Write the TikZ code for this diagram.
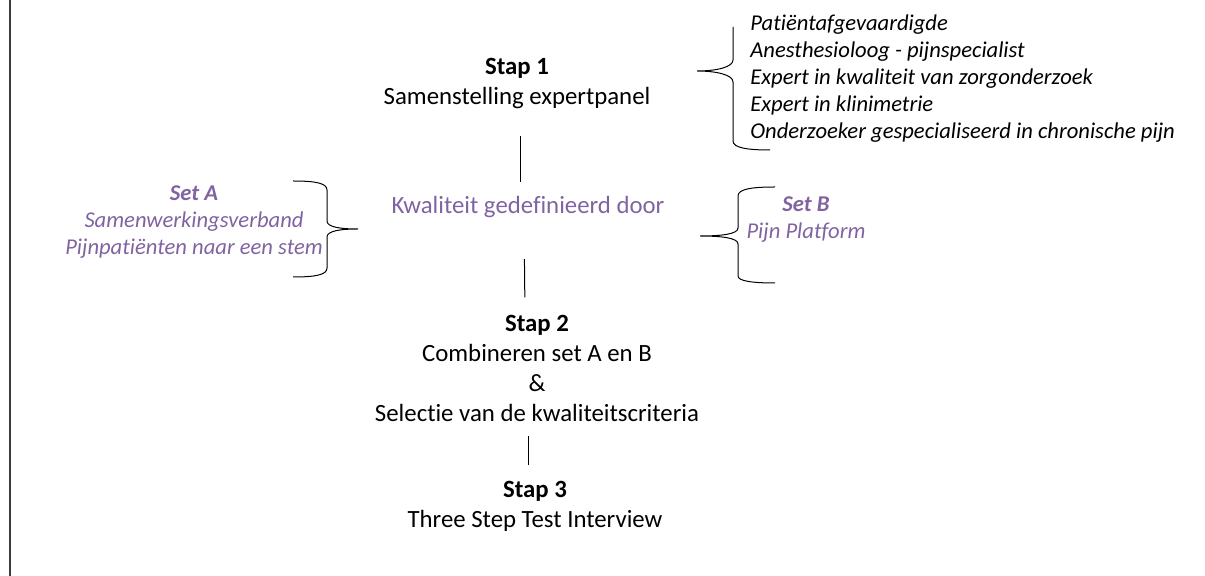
\documentclass[tikz,border=0pt]{standalone}
\usepackage{fontspec}
\setmainfont{Carlito}[Ligatures=NoCommon]
\usepackage{tikz}
\usetikzlibrary{positioning,calc}
\definecolor{setpurple}{RGB}{128,100,162}
\definecolor{framegray}{RGB}{60,60,60}
\newcommand{\mainsize}{\fontsize{12.4}{15}\selectfont}
\newcommand{\listsize}{\fontsize{11.3}{13.5}\selectfont}

\begin{document}
\begin{tikzpicture}[x=0.5pt, y=-0.5pt,
    stepnode/.style={inner sep=0pt, align=center, font=\mainsize},
    setnode/.style={inner sep=0pt, align=center, font=\listsize\itshape, text=setpurple},
    link/.style={draw=black, line width=0.5pt},
    bracket/.style={draw=black, line width=0.5pt}]
    \useasboundingbox (0,0) rectangle (1205,576);
    \draw[framegray, line width=1pt] (9.5,0) -- (9.5,576);

    % steps down the middle
    \node[stepnode] (stap1) at (517,84) {\textbf{Stap 1}\\Samenstelling expertpanel};
    \node[stepnode, text=setpurple] (kwal) at (528,207) {Kwaliteit gedefinieerd door};
    \node[stepnode] (stap2) at (537,368)
         {\textbf{Stap 2}\\Combineren set A en B\\\&\\Selectie van de kwaliteitscriteria};
    \node[stepnode] (stap3) at (535,506) {\textbf{Stap 3}\\Three Step Test Interview};

    \draw[link, shorten <=13pt, shorten >=7pt] ([xshift=1.5pt]stap1.south) -- ([xshift=-4pt]kwal.north);
    \draw[link, shorten <=20.5pt, shorten >=8.5pt] ([xshift=-2pt]kwal.south) -- ([xshift=-6pt]stap2.north);
    \draw[link, shorten <=7pt, shorten >=7.5pt] ([xshift=-4.5pt]stap2.south) -- ([xshift=-3.5pt]stap3.north);

    % experts
    \node[inner sep=0pt, align=left, anchor=west, font=\listsize\itshape] (panel) at (750,79)
         {Patiëntafgevaardigde\\Anesthesioloog - pijnspecialist\\Expert in kwaliteit van zorgonderzoek\\
          Expert in klinimetrie\\Onderzoeker gespecialiseerd in chronische pijn};
    \draw[bracket] (733,27) -- (733,60) .. controls (733,67) and (717,71) .. (697,71)
          .. controls (717,71) and (733,75) .. (733,82) -- (733,141)
          .. controls (733,148) and (748,150) .. (770,150);

    % set A and set B
    \node[setnode] (setA) at (194,222)
         {\textbf{Set A}\\Samenwerkingsverband\\Pijnpatiënten naar een stem};
    \node[setnode] (setB) at (806,220) {\textbf{Set B}\\Pijn Platform};
    \draw[bracket] (293,181) .. controls (315,181) and (327,183) .. (327,190) -- (327,221)
          .. controls (327,227) and (340,229) .. (358,229)
          .. controls (340,229) and (327,231) .. (327,237) -- (327,268)
          .. controls (327,275) and (315,277) .. (293,277);
    \draw[bracket] (775,187) .. controls (752,187) and (738,189) .. (738,196) -- (738,228)
          .. controls (738,234) and (722,236) .. (700,236)
          .. controls (722,236) and (738,238) .. (738,244) -- (738,276)
          .. controls (738,281) and (752,283) .. (775,283);
\end{tikzpicture}
\end{document}
